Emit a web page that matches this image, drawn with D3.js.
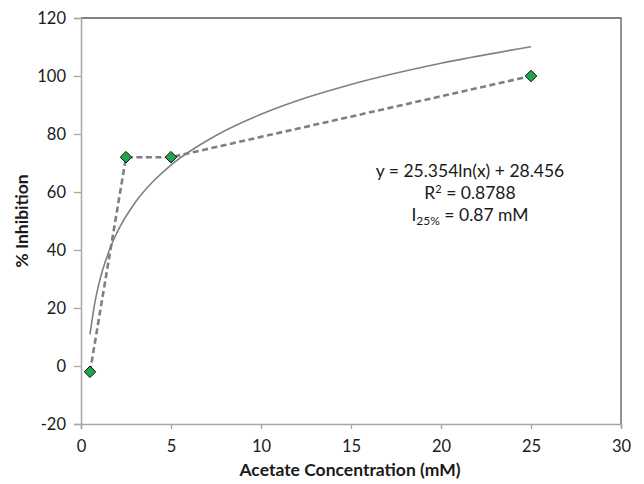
<!DOCTYPE html>
<html><head><meta charset="utf-8">
<script src="https://cdn.jsdelivr.net/npm/d3@7"></script>
<style>
html,body{margin:0;padding:0;background:#fff;}
text{font-family:Lato,"Open Sans",sans-serif;fill:#1a1a1a;}
</style></head>
<body><svg id="c" width="644" height="484"></svg>
<script>
// Data
const concentrations = [0.5, 2.5, 5, 25];
const inhibition = [-2, 72, 72, 100];
// Logarithmic trendline points (y = 25.354ln(x) + 28.456)
const trendX = [0.5, 0.75, 1, 1.5, 2, 3, 4, 5, 7.5, 10, 12.5, 15, 20, 25];
const trendY = [10.9, 21.2, 28.5, 38.7, 46.0, 56.3, 63.6, 69.3, 79.5, 86.8, 92.5, 97.1, 104.4, 110.1];
const xTicks = [0, 5, 10, 15, 20, 25, 30];
const yTicks = [-20, 0, 20, 40, 60, 80, 100, 120];
const xTitle = "Acetate Concentration (mM)";
const yTitle = "% Inhibition";

const svg = d3.select("#c");
const L = 81, R = 621, T = 18, B = 424;
const x = d3.scaleLinear().domain([0, 30]).range([L, R]);
const y = d3.scaleLinear().domain([-20, 120]).range([B, T]);
const fmt = d => String(d);

// frame top/right
svg.append("path").attr("d", `M${L},${T}H${R}V${B}`).attr("fill","none").attr("stroke","#595959").attr("stroke-width",1.3);

// axes
const gx = svg.append("g").attr("transform",`translate(0,${B})`)
  .call(d3.axisBottom(x).tickValues(xTicks).tickSize(5).tickPadding(11).tickFormat(fmt));
const gy = svg.append("g").attr("transform",`translate(${L},0)`)
  .call(d3.axisLeft(y).tickValues(yTicks).tickSize(7).tickPadding(8).tickFormat(fmt));
[gx, gy].forEach(g => {
  g.select(".domain").attr("stroke","#a6a6a6").attr("stroke-width",1.5);
  g.selectAll(".tick line").attr("stroke","#a6a6a6").attr("stroke-width",1.3);
  g.selectAll("text").attr("font-size",16.5).attr("font-family","Lato,'Open Sans',sans-serif").attr("fill","#1a1a1a");
});

// titles
svg.append("text").attr("x", (L+R)/2 - 1).attr("y", 476).attr("text-anchor","middle")
  .attr("font-size",17.5).attr("font-weight","bold").text(xTitle);
svg.append("text").attr("transform",`translate(28,${(T+B)/2}) rotate(-90)`).attr("text-anchor","middle")
  .attr("font-size",17.5).attr("font-weight","bold").text(yTitle);

// trendline
const pts = trendX.map((d,i)=>[d, trendY[i]]);
svg.append("path").datum(pts)
  .attr("d", d3.line().x(d=>x(d[0])).y(d=>y(d[1])).curve(d3.curveMonotoneX))
  .attr("fill","none").attr("stroke","#808080").attr("stroke-width",1.6);

// dashed data line
const data = concentrations.map((d,i)=>[d, inhibition[i]]);
svg.append("path").datum(data)
  .attr("d", d3.line().x(d=>x(d[0])).y(d=>y(d[1])))
  .attr("fill","none").attr("stroke","#7f7f7f").attr("stroke-width",2.6).attr("stroke-dasharray","6,3.5");

// markers
svg.selectAll(".m").data(data).enter().append("path")
  .attr("transform", d=>`translate(${x(d[0])},${y(d[1])})`)
  .attr("d", d3.symbol().type(d3.symbolDiamond2).size(85))
  .attr("fill","#1fa64c").attr("stroke","#111").attr("stroke-width",1);

// annotation
const ax = 470;
svg.append("text").attr("x", ax).attr("y", 177).attr("text-anchor","middle").attr("font-size",17.5)
  .text("y = 25.354ln(x) + 28.456");
const r2 = svg.append("text").attr("x", ax).attr("y", 199).attr("text-anchor","middle").attr("font-size",17.5);
r2.append("tspan").text("R");
r2.append("tspan").attr("font-size",11).attr("dy",-6).text("2");
r2.append("tspan").attr("dy",6).text(" = 0.8788");
const i25 = svg.append("text").attr("x", ax).attr("y", 221).attr("text-anchor","middle").attr("font-size",17.5);
i25.append("tspan").text("I");
i25.append("tspan").attr("font-size",12).attr("dy",4).text("25%");
i25.append("tspan").attr("dy",-4).text(" = 0.87 mM");
</script></body></html>
